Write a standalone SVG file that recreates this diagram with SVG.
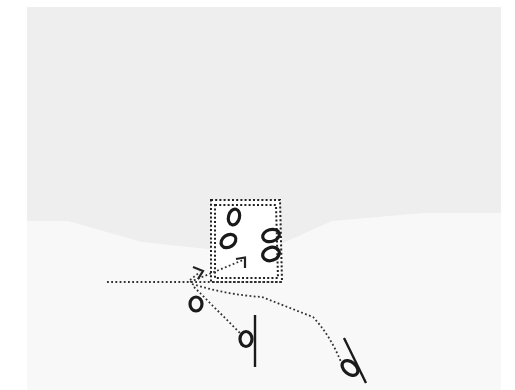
<svg xmlns="http://www.w3.org/2000/svg" width="515" height="390" viewBox="0 0 515 390">
  <style>
    .dot { fill: none; stroke: #333; stroke-width: 1.8; stroke-dasharray: 1.8 2.4; }
    .frame { fill: none; stroke: #222; stroke-width: 2; stroke-dasharray: 2 2.2; }
    .ring { fill: none; stroke: #1a1a1a; stroke-width: 3.2; }
    .bar { fill: none; stroke: #1a1a1a; stroke-width: 2.4; stroke-linecap: butt; }
    .head { fill: none; stroke: #222; stroke-width: 2.2; }
  </style>
  <rect width="515" height="390" fill="#ffffff"/>
  <g id="backdrop">
    <rect x="27" y="7" width="474" height="383" fill="#eeeeee"/>
    <polygon points="27,221 68,221 142,242 207,249 245,250 283,243 332,221 423,213 501,213 501,390 27,390" fill="#f8f8f8"/>
  </g>
  <g id="box">
    <polygon points="211,200 280,200 282,282 211,282" fill="#ffffff"/>
    <polygon class="frame" points="211,200 280,200 282,282 211,282"/>
    <polygon class="frame" points="215,205 276,205 278,278 215,278"/>
    <ellipse class="ring" cx="234" cy="217" rx="5.5" ry="8" transform="rotate(15 234 217)"/>
    <ellipse class="ring" cx="228.5" cy="241" rx="8" ry="6" transform="rotate(-35 228.5 241)"/>
    <ellipse class="ring" cx="271" cy="235.5" rx="8.5" ry="6" transform="rotate(-15 271 235.5)"/>
    <ellipse class="ring" cx="271" cy="254" rx="8.5" ry="6.5" transform="rotate(-20 271 254)"/>
  </g>
  <g id="connectors">
    <line class="dot" x1="107" y1="282" x2="282" y2="282"/>
    <path class="dot" d="M190,282 L243,260"/>
    <path class="dot" d="M190,280 L200,272"/>
    <path class="dot" d="M192,284 Q228,295 262,297 L313,317 Q330,335 341,362"/>
    <path class="dot" d="M194,287 L240,333"/>
    <polyline class="head" points="236,259 245,257.5 245,268"/>
    <polyline class="head" points="193,267 203,271 198,279"/>
  </g>
  <g id="figure-o">
    <ellipse class="ring" cx="196" cy="304" rx="6" ry="7"/>
  </g>
  <g id="figure-d">
    <ellipse class="ring" cx="246" cy="339" rx="6" ry="7.5"/>
    <line class="bar" x1="255" y1="315" x2="255" y2="367"/>
  </g>
  <g id="figure-slash">
    <ellipse class="ring" cx="350" cy="368" rx="9" ry="6" transform="rotate(40 350 368)"/>
    <line class="bar" x1="344" y1="338" x2="366" y2="383"/>
  </g>
</svg>
